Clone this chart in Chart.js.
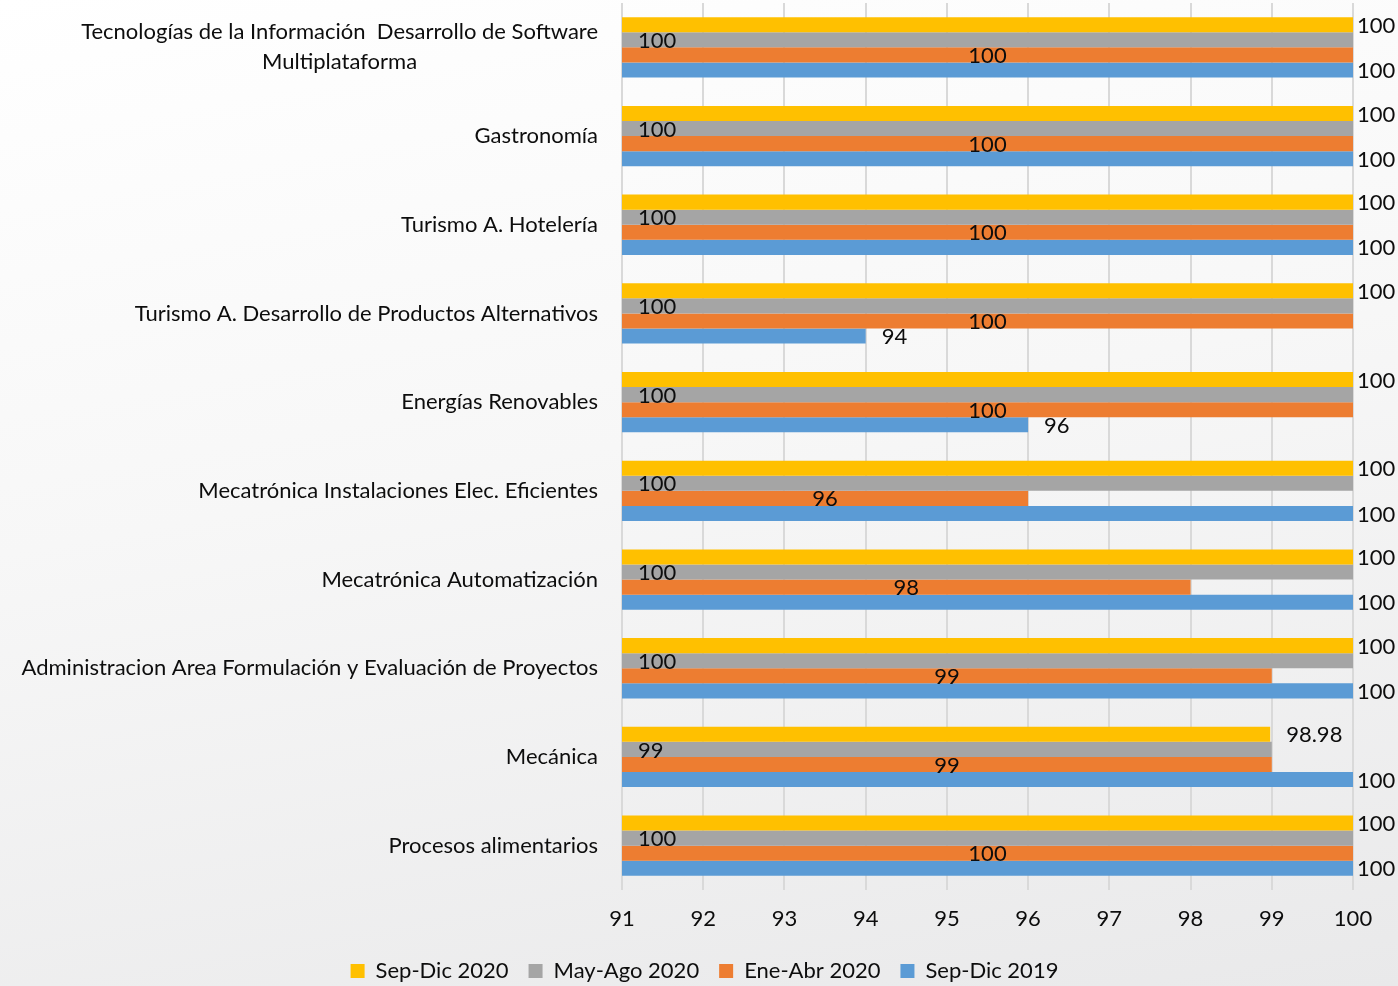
<!DOCTYPE html>
<html>
<head>
<meta charset="utf-8">
<script src="https://cdn.jsdelivr.net/npm/chart.js@4"></script>
<style>
html, body { margin: 0; padding: 0; }
body {
	width: 1398px; height: 986px; overflow: hidden;
	background: linear-gradient(170deg, #ffffff 0%, #f7f7f7 45%, #e9e9ea 100%);
}
#wrap { position: relative; width: 1398px; height: 986px; }
</style>
</head>
<body>
<div id="wrap"><canvas id="myChart"></canvas></div>
<script>
var categorias = [
	['Tecnologías de la Información  Desarrollo de Software', 'Multiplataforma'],
	'Gastronomía',
	'Turismo A. Hotelería',
	'Turismo A. Desarrollo de Productos Alternativos',
	'Energías Renovables',
	'Mecatrónica Instalaciones Elec. Eficientes',
	'Mecatrónica Automatización',
	'Administracion Area Formulación y Evaluación de Proyectos',
	'Mecánica',
	'Procesos alimentarios'
];
var sepDic2020 = [100, 100, 100, 100, 100, 100, 100, 100, 98.98, 100];
var mayAgo2020 = [100, 100, 100, 100, 100, 100, 100, 100, 99, 100];
var eneAbr2020 = [100, 100, 100, 100, 100, 96, 98, 99, 99, 100];
var sepDic2019 = [100, 100, 100, 94, 96, 100, 100, 100, 100, 100];
var ticksX = [91, 92, 93, 94, 95, 96, 97, 98, 99, 100];

var FONTE = 'Lato';
var TAM = 22;
Chart.defaults.font.family = FONTE;
Chart.defaults.font.size = TAM;
Chart.defaults.color = '#0d0d0d';

// etiquetas estilo Excel: fin exterior, base interior, centro
var posicoes = ['fim', 'base', 'centro', 'fim'];
var rotulosPlugin = {
	id: 'rotulos',
	afterLayout: function(chart){
		// legenda um pouco para a direita, como no original
		chart.legend.left += 28;
		chart.legend.right += 28;
	},
	afterDatasetsDraw: function(chart){
		var ctx = chart.ctx;
		var area = chart.chartArea;
		ctx.save();
		ctx.font = TAM + 'px ' + FONTE;
		ctx.fillStyle = '#0d0d0d';
		ctx.textBaseline = 'middle';
		chart.data.datasets.forEach(function(ds, i){
			var meta = chart.getDatasetMeta(i);
			meta.data.forEach(function(bar, j){
				var txt = String(ds.data[j]);
				var pos = posicoes[i];
				if (pos === 'fim'){
					ctx.textAlign = 'left';
					ctx.fillText(txt, bar.x + (bar.x < area.right - 1 ? 16 : 4), bar.y + 1);
				} else if (pos === 'base'){
					ctx.textAlign = 'left';
					ctx.fillText(txt, area.left + 16, bar.y + 1);
				} else {
					ctx.textAlign = 'center';
					ctx.fillText(txt, (bar.x + area.left) / 2, bar.y + 1);
				}
			});
		});
		// primeira categoria com segunda linha centralizada
		var y = chart.scales.y;
		var linhas = categorias[0];
		var direita = y.right - 24;
		var larg = ctx.measureText(linhas[0]).width;
		var cy = y.getPixelForTick(0);
		ctx.textAlign = 'center';
		ctx.fillText(linhas[0], direita - larg / 2, cy - 15);
		ctx.fillText(linhas[1], direita - larg / 2, cy + 15);
		ctx.restore();
	}
};

function renderChart(){
	var ctx = document.getElementById('myChart').getContext('2d');
	var myChart = new Chart(ctx, {
		type: 'bar',
		data: {
			labels: categorias,
			datasets: [
				{ label: 'Sep-Dic 2020', data: sepDic2020, backgroundColor: '#FFC000' },
				{ label: 'May-Ago 2020', data: mayAgo2020, backgroundColor: '#A5A5A5' },
				{ label: 'Ene-Abr 2020', data: eneAbr2020, backgroundColor: '#ED7D31' },
				{ label: 'Sep-Dic 2019', data: sepDic2019, backgroundColor: '#5B9BD5' }
			]
		},
		options: {
			indexAxis: 'y',
			responsive: false,
			animation: false,
			categoryPercentage: 0.68,
			barPercentage: 1,
			layout: { padding: { top: 3, right: 45, left: 0, bottom: -6 } },
			scales: {
				x: {
					min: 91,
					max: 100,
					afterBuildTicks: function(s){
						s.ticks = ticksX.map(function(v){ return { value: v }; });
					},
					afterFit: function(s){ s.height = 50; },
					grid: { color: '#d9d9d9', lineWidth: 2, drawTicks: false },
					border: { display: false },
					ticks: { padding: 16 }
				},
				y: {
					afterFit: function(s){
						s.width = 622;
						s.paddingTop = 0;
						s.paddingBottom = 0;
					},
					grid: { display: false, drawTicks: false },
					border: { display: false },
					ticks: {
						padding: 24,
						callback: function(v, i){ return i === 0 ? '' : this.getLabelForValue(v); }
					}
				}
			},
			plugins: {
				legend: {
					position: 'bottom',
					labels: { boxWidth: 14, boxHeight: 14, padding: 20 }
				},
				tooltip: { enabled: false }
			}
		},
		plugins: [rotulosPlugin]
	});
}

var cv = document.getElementById('myChart');
cv.width = 1398;
cv.height = 986;
renderChart();
</script>
</body>
</html>
